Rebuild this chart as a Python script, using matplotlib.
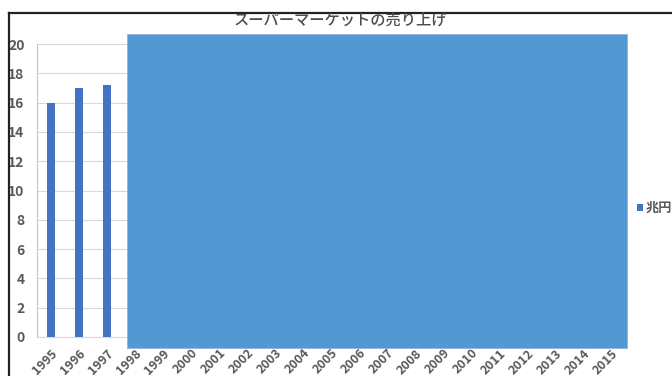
import numpy as np
import matplotlib.pyplot as plt
from matplotlib.patches import Rectangle
from matplotlib.lines import Line2D

plt.rcParams['font.family'] = ['Noto Sans CJK JP', 'DejaVu Sans']

years = [str(y) for y in range(1995, 2016)]
# only the first three bars are visible, the rest is hidden under the box
sales = [16, 17, 17.2] + [np.nan] * 18
series_name = '兆円'

gray = '#595959'
bar_color = '#4472C4'
box_color = '#5299D3'

fig = plt.figure(figsize=(6.72, 3.76), dpi=100)
ax = fig.add_axes([37 / 672, 1 - 337 / 376, 588 / 672, 293 / 376])

x = np.arange(len(years))
ax.bar(x, sales, width=0.32, color=bar_color, label=series_name, zorder=3)

ax.set_xlim(-0.5, len(years) - 0.5)
ax.set_ylim(0, 20)
ax.set_yticks(range(0, 21, 2))
ax.set_xticks(x)
ax.set_xticklabels(years, rotation=45, ha='right', rotation_mode='anchor',
                   fontsize=9, fontweight='bold', color=gray)
ax.tick_params(axis='y', labelsize=10, labelcolor=gray, length=0, pad=9)
for lab in ax.get_yticklabels():
    lab.set_fontweight('bold')
ax.tick_params(axis='x', length=0, pad=7)
ax.grid(axis='y', color='#d9d9d9', linewidth=0.8, zorder=0)
for s in ['top', 'right']:
    ax.spines[s].set_visible(False)
ax.spines['left'].set_color('#b4c7e7')
ax.spines['bottom'].set_color('#d9d9d9')

# overlay box covering the later years
ax.add_patch(Rectangle((2.71, -0.75), 17.86, 21.45, facecolor=box_color,
                       edgecolor='#8fb4dc', linewidth=0.6, clip_on=False, zorder=5))

fig.text(340 / 672, 1 - 20 / 376, 'スーパーマーケットの売り上げ', ha='center', va='center',
         fontsize=11, fontweight='medium', color='#4d4d4d')

leg = fig.legend(loc='center left', bbox_to_anchor=(625 / 672, 1 - 208 / 376),
                 frameon=False, handlelength=0.45, handleheight=0.45, handletextpad=0.25,
                 prop={'size': 9.5, 'weight': 'bold'})
for t in leg.get_texts():
    t.set_color(gray)

# black frame of the screenshot
fig.add_artist(Line2D([8.5 / 672, 1], [1 - 12.5 / 376] * 2, color='#222222', linewidth=1.6))
fig.add_artist(Line2D([8.5 / 672] * 2, [0, 1 - 12.5 / 376], color='#222222', linewidth=1.6))

fig.savefig('out.png', dpi=100)
